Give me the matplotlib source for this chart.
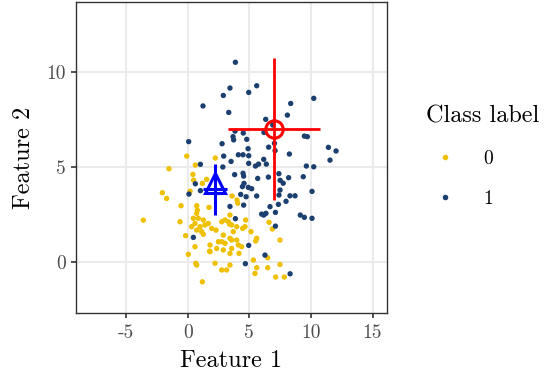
import matplotlib
matplotlib.use("Agg")
import matplotlib.pyplot as plt
from matplotlib.lines import Line2D

plt.rcParams['font.family'] = 'serif'
plt.rcParams['font.serif'] = ['cmr10']
plt.rcParams['axes.formatter.use_mathtext'] = True

# ---- data ----
class0_x = [-0.08, 2.24, 0.62, -1.52, 0.42, 0.48, 1.19, 1.54, 0.19, -2.06, -1.71, -0.54, 0.73, 1.73,
            0.78, 0.73, -0.62, -0.17, 0.46, 0.86, 1.27, 0.59, 0.32, 1.00, 1.40, 1.67, 0.73, 1.13,
            1.27, 1.95, 2.30, 2.76, 3.03, 3.43, 3.30, 3.57, 3.98, 3.70, 3.43, 2.89, 2.76, 3.03,
            3.57, 3.98, 4.11, 4.38, 3.57, 2.49, 2.35, 1.81, 0.59, 0.05, 1.81, 2.89, 3.43, 0.73,
            2.22, 2.76, 3.16, 3.43, 1.19, 4.46, 3.60, 4.00, 4.06, 4.16, -3.60, 4.70, 4.65, 5.14,
            5.60, 5.52, 6.60, 6.87, 7.49, 5.33, 6.49, 5.60, 5.46, 6.49, 7.49, 7.14, 7.84, 0.65,
            1.78, 3.40]
class0_y = [5.57, 5.47, 5.10, 4.91, 4.61, 4.31, 4.14, 4.35, 3.73, 3.65, 3.35, 2.97, 2.97, 2.88,
            2.74, 2.57, 2.13, 1.40, 2.31, 2.31, 2.22, 2.04, 1.87, 1.87, 1.96, 2.04, 1.69, 1.61,
            1.47, 1.78, 1.69, 2.13, 2.22, 2.48, 2.13, 1.96, 1.87, 1.61, 1.26, 1.43, 1.08, 1.00,
            1.17, 1.17, 0.91, 0.82, 0.73, 1.08, 0.73, 0.91, 0.82, 0.42, 0.56, 0.65, 0.47, -0.14,
            -0.05, -0.40, -0.40, -0.14, -1.02, 1.78, 3.48, 3.27, 3.10, 0.47, 2.21, 2.22, 1.87, 1.61,
            1.26, 1.12, 2.10, 1.75, 1.17, 0.12, 0.24, -0.28, -0.58, -0.28, -0.11, -0.77, -0.77, -0.05,
            0.59, 2.00]

class1_x = [3.87, 5.60, 3.43, 4.95, 2.89, 10.23, 1.24, 8.36, 3.33, 8.09, 6.33, 6.90, 6.19, 3.84,
            4.51, 3.68, 3.73, 4.79, 9.47, 9.71, 7.04, 0.08, 2.79, 6.57, 4.90, 7.09, 11.42, 12.04,
            2.92, 4.11, 4.49, 4.95, 8.25, 6.17, 11.55,
            3.52, 4.95, 5.50, 5.75, 6.38, 1.03, 9.63, 10.23, 3.81, 4.49, 4.54, 5.68, 6.55, 7.40,
            8.19, 9.38, 7.50, 7.75, 0.62, 1.03, 0.10, 4.57, 4.44, 4.92, 5.19, 7.49, 7.41, 8.30,
            8.71, 10.09, 4.30, 4.74, 5.60, 7.98, 6.68, 4.54, 3.43, 6.00, 6.35, 6.17, 7.12, 9.14,
            9.47, 10.09, 3.87, 0.46, 7.12, 4.95, 6.27, 4.68, 8.31, 7.36, 2.85]
class1_y = [10.49, 9.26, 9.14, 8.91, 8.75, 8.60, 8.20, 8.33, 7.86, 7.72, 7.50, 7.20, 6.81, 6.88,
            6.78, 6.59, 6.42, 6.45, 6.62, 6.59, 6.24, 6.33, 6.22, 6.04, 5.96, 5.86, 6.03, 5.84,
            5.57, 5.64, 5.64, 5.59, 5.68, 5.40, 5.36,
            5.29, 5.19, 5.05, 5.15, 5.15, 5.14, 5.05, 5.01, 4.60, 4.67, 4.52, 4.40, 4.47, 4.65,
            4.44, 4.49, 4.30, 4.15, 4.12, 3.76, 3.58, 4.14, 3.97, 3.93, 3.86, 3.79, 3.53, 3.49,
            3.49, 3.72, 3.56, 3.44, 3.48, 3.20, 2.92, 3.00, 2.93, 2.53, 2.57, 2.48, 2.62, 2.48,
            2.36, 2.31, 2.29, 1.31, 1.90, 0.89, 0.38, -0.07, -0.60, 3.04, 5.00]

# class centres with spread (error bars)
center0 = (2.22, 3.83)
err0 = (1.0, 1.35)
center1 = (7.02, 6.97)
err1 = (3.73, 3.72)

class_labels = ['0', '1']
colors = ['#EFC000', '#1B3F6E']

x_ticks = [-5, 0, 5, 10, 15]
y_ticks = [0, 5, 10]

# ---- figure ----
fig = plt.figure(figsize=(5.45, 3.79), dpi=100)
ax = fig.add_axes([0.1394, 0.1734, 0.5701, 0.8213])

ax.scatter(class0_x, class0_y, s=15, color=colors[0], edgecolors='none', zorder=3)
ax.scatter(class1_x, class1_y, s=15, color=colors[1], edgecolors='none', zorder=3)

# class 0 summary (blue triangle)
ax.errorbar([center0[0]], [center0[1]], xerr=[err0[0]], yerr=[err0[1]], fmt='none',
            ecolor='#0000FF', elinewidth=2.2, capsize=0, zorder=4)
ax.plot([center0[0]], [center0[1] + 0.35], marker='^', markersize=15, markerfacecolor='none',
        markeredgecolor='#0000FF', markeredgewidth=2.2, linestyle='none', zorder=5)

# class 1 summary (red circle)
ax.errorbar([center1[0]], [center1[1]], xerr=[err1[0]], yerr=[err1[1]], fmt='none',
            ecolor='#FF0000', elinewidth=2.0, capsize=0, zorder=4)
ax.plot([center1[0]], [center1[1]], marker='o', markersize=12.5, markerfacecolor='none',
        markeredgecolor='#FF0000', markeredgewidth=2.2, linestyle='none', zorder=5)

ax.set_xlim(-9.07, 16.15)
ax.set_ylim(-2.67, 13.65)
ax.set_xticks(x_ticks)
ax.set_xticklabels([str(t) for t in x_ticks])
ax.set_yticks(y_ticks)
ax.set_yticklabels([str(t) for t in y_ticks])

ax.grid(True, color='#EBEBEB', linewidth=1.5, zorder=0)
ax.set_axisbelow(True)
for sp in ax.spines.values():
    sp.set_color('#333333')
    sp.set_linewidth(1.0)
ax.tick_params(axis='both', colors='#333333', length=3.5, width=1.2, labelsize=14,
               labelcolor='#4D4D4D', pad=4)

ax.set_xlabel('Feature 1', fontsize=17.5, labelpad=6)
ax.set_ylabel('Feature 2', fontsize=17.5, labelpad=8)

handles = [Line2D([], [], marker='o', linestyle='none', markersize=4,
                  markerfacecolor=c, markeredgecolor='none') for c in colors]
leg = fig.legend(handles, class_labels, title='Class label', loc='upper left',
                 bbox_to_anchor=(0.781, 0.722), frameon=False, fontsize=14,
                 title_fontsize=17.5, handletextpad=0.95, labelspacing=1.15,
                 handlelength=2.0, borderpad=0, borderaxespad=0)
leg._legend_box.align = 'left'

fig.savefig('out.png', dpi=100)
